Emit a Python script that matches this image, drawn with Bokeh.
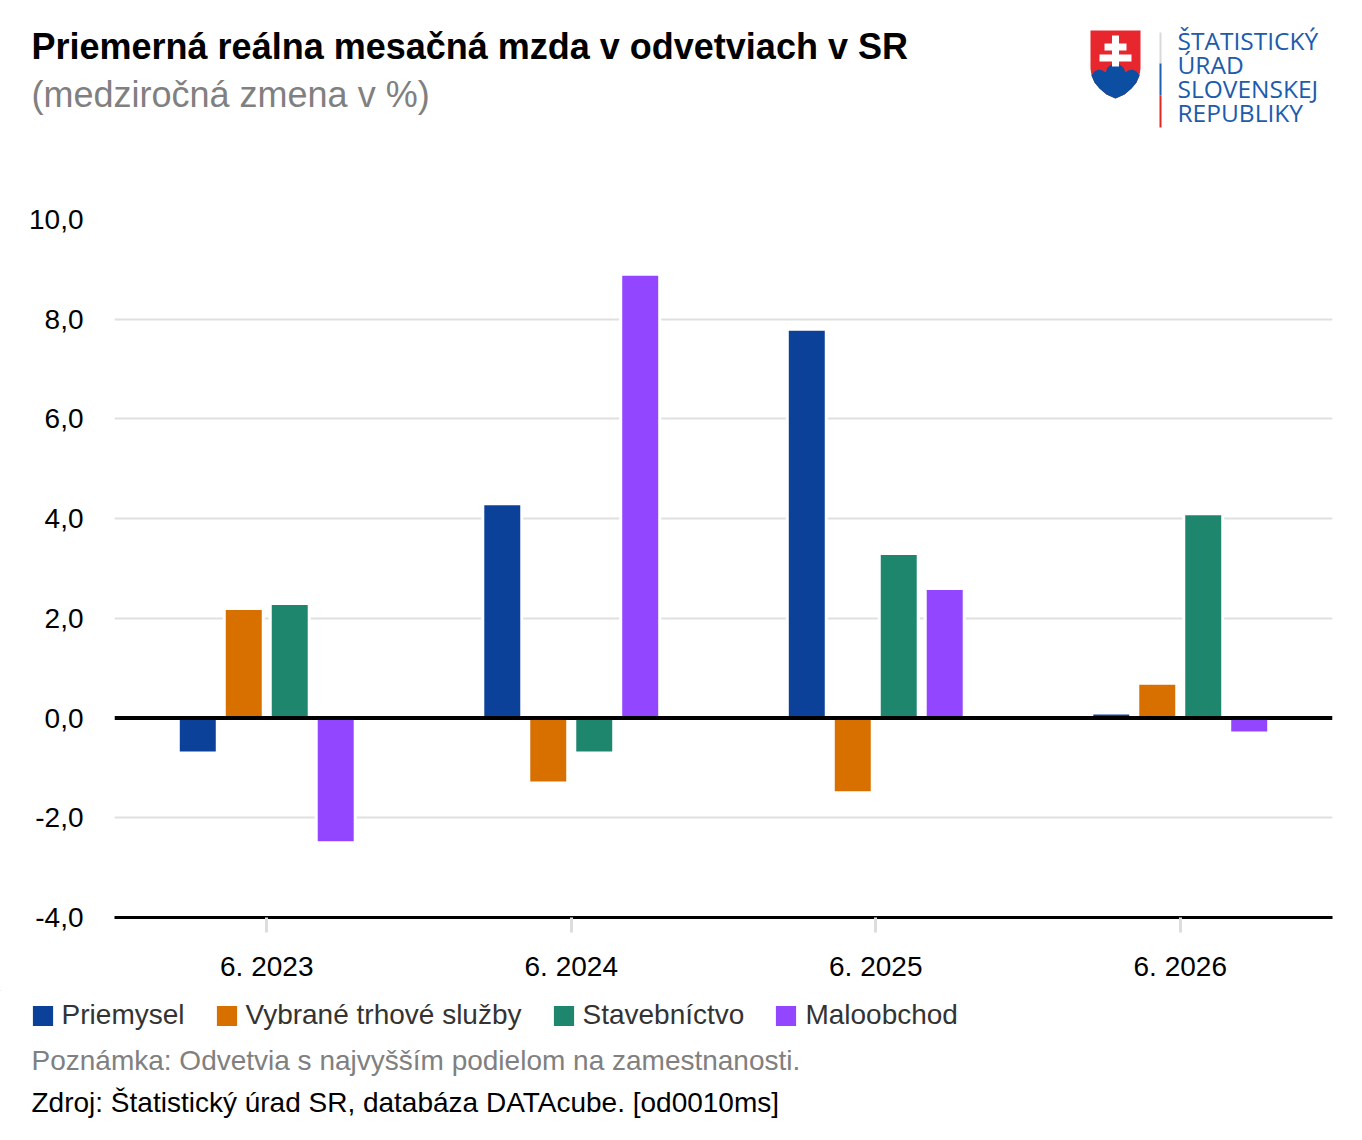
from bokeh.plotting import figure
from bokeh.models import (ColumnDataSource, FactorRange, Range1d, FixedTicker, Span,
                          Legend, LegendItem, CustomJSTickFormatter)
from bokeh.layouts import column, row
from bokeh.transform import dodge
from bokeh.core.properties import value
from bokeh.embed import file_html
from bokeh.resources import INLINE

# ---------------- data ----------------
periods = ["6. 2023", "6. 2024", "6. 2025", "6. 2026"]
series_names = ["Priemysel", "Vybrané trhové služby", "Stavebníctvo", "Maloobchod"]
priemysel = [-0.7, 4.3, 7.8, 0.1]
trhove_sluzby = [2.2, -1.3, -1.5, 0.7]
stavebnictvo = [2.3, -0.7, 3.3, 4.1]
maloobchod = [-2.5, 8.9, 2.6, -0.3]
y_ticks = [-4, -2, 0, 2, 4, 6, 8, 10]

title_text = "Priemerná reálna mesačná mzda v odvetviach v SR"
subtitle_text = "(medziročná zmena v %)"
note_text = "Poznámka: Odvetvia s najvyšším podielom na zamestnanosti."
source_text = "Zdroj: Štatistický úrad SR, databáza DATAcube. [od0010ms]"
logo_lines = ["ŠTATISTICKÝ", "ÚRAD", "SLOVENSKEJ", "REPUBLIKY"]

colors = ["#0C4199", "#D87000", "#1F866E", "#9346FF"]
FONT = "Liberation Sans"
W = 1362

# ---------------- header ----------------
HH = 198
hdr = figure(width=W, height=HH, x_range=Range1d(0, W), y_range=Range1d(HH, 0),
             x_axis_type=None, y_axis_type=None, toolbar_location=None,
             output_backend="svg", min_border=0, outline_line_color=None)
hdr.grid.visible = False
hdr.text(x=[31], y=[46], text=[title_text], text_font=value(FONT), text_font_size="36px",
         text_font_style="bold", text_color="#000000", text_baseline="middle", text_align="left")
hdr.text(x=[31], y=[94], text=[subtitle_text], text_font=value(FONT), text_font_size="36px",
         text_color="#808080", text_baseline="middle", text_align="left")

# logo
shield = [(1090, 30), (1140, 30), (1140, 68), (1139, 75), (1136, 82), (1131, 88), (1124, 94),
          (1115, 98), (1106, 94), (1099, 88), (1094, 82), (1091, 75), (1090, 68)]
hills = [(1091, 75), (1094, 71), (1098, 69), (1102, 70), (1105, 72), (1107, 67), (1111, 64),
         (1115, 63), (1119, 64), (1123, 67), (1125, 72), (1128, 70), (1132, 69), (1136, 71),
         (1139, 75), (1136, 82), (1131, 88), (1124, 94), (1115, 98), (1106, 94), (1099, 88),
         (1094, 82)]
hdr.patch([q[0] for q in shield], [q[1] for q in shield], fill_color="#E8262E", line_color=None)
hdr.patch([q[0] for q in hills], [q[1] for q in hills], fill_color="#0B4EA2", line_color=None)
for (x0, x1, y0, y1) in [(1111.5, 1118.5, 35, 66), (1104, 1126, 43, 50), (1099, 1131, 54, 61)]:
    hdr.quad(left=x0, right=x1, top=y0, bottom=y1, fill_color="#FFFFFF", line_color=None)
for (y0, y1, c) in [(32, 63, "#D9D9D9"), (63, 95, "#1D5FB0"), (95, 127, "#E52521")]:
    hdr.quad(left=1159, right=1161, top=y0, bottom=y1, fill_color=c, line_color=None)
hdr.text(x=[1177] * 4, y=[40, 64, 88, 112], text=logo_lines,
         text_font=value("Open Sans"), text_font_size="24.5px", text_color="#1B5CAD",
         text_baseline="middle", text_align="left")

# ---------------- main chart ----------------
MH = 792
src = ColumnDataSource(dict(period=periods, s0=priemysel, s1=trhove_sluzby,
                            s2=stavebnictvo, s3=maloobchod))
p = figure(width=W, height=MH, x_range=FactorRange(*periods), y_range=Range1d(-4, 10),
           toolbar_location=None, output_backend="svg",
           min_border_left=114, min_border_right=30, min_border_top=21, min_border_bottom=73,
           outline_line_color=None)
p.x_range.range_padding = 0

offsets = [-0.2265, -0.0755, 0.0755, 0.2265]
for i, col in enumerate(["s0", "s1", "s2", "s3"]):
    p.vbar(x=dodge("period", offsets[i], range=p.x_range), top=col, bottom=0, width=0.128,
           source=src, fill_color=colors[i], line_color="white", line_width=3)

p.add_layout(Span(location=0, dimension="width", line_color="black", line_width=4, level="overlay"))

p.xgrid.visible = False
p.ygrid.grid_line_color = "#E0E0E0"
p.ygrid.grid_line_width = 2

p.yaxis.ticker = FixedTicker(ticks=y_ticks)
p.yaxis.formatter = CustomJSTickFormatter(code="return tick.toFixed(1).replace('.', ',');")
p.yaxis.axis_line_color = None
p.yaxis.major_tick_line_color = None
p.yaxis.minor_tick_line_color = None
p.yaxis.major_tick_out = 0
p.yaxis.major_tick_in = 0
p.yaxis.major_label_standoff = 31
p.yaxis.major_label_text_font = FONT
p.yaxis.major_label_text_font_size = "28px"
p.yaxis.major_label_text_color = "#000000"

p.xaxis.axis_line_color = "black"
p.xaxis.axis_line_width = 3
p.xaxis.major_tick_line_color = "#DDDDDD"
p.xaxis.major_tick_line_width = 3
p.xaxis.major_tick_out = 15
p.xaxis.major_tick_in = 0
p.xaxis.major_label_standoff = 18
p.xaxis.major_label_text_font = FONT
p.xaxis.major_label_text_font_size = "28px"
p.xaxis.major_label_text_color = "#000000"

# ---------------- footer (legend + notes) ----------------
FH = 150
ftr = figure(width=W, height=FH, x_range=Range1d(0, W), y_range=Range1d(FH, 0),
             x_axis_type=None, y_axis_type=None, toolbar_location=None,
             output_backend="svg", min_border=0, outline_line_color=None)
ftr.grid.visible = False
# legend proxies (kept outside the visible range; only their legend swatches show)
proxies = []
for i in range(4):
    proxies.append(ftr.vbar(x=[-1000], top=[-1000], bottom=[-1001], width=1, fill_color=colors[i],
                            line_color="white", line_width=3))
legend = Legend(items=[LegendItem(label=n, renderers=[r]) for n, r in zip(series_names, proxies)],
                orientation="horizontal", location=(27.6, 109), padding=0, margin=0,
                spacing=27, label_standoff=5, glyph_width=29, glyph_height=29,
                border_line_color=None, background_fill_alpha=0,
                label_text_font=FONT, label_text_font_size="28px", label_text_color="#333333")
ftr.add_layout(legend, "center")
ftr.text(x=[31], y=[70], text=[note_text], text_font=value(FONT), text_font_size="28px",
         text_color="#808080", text_baseline="middle", text_align="left")
ftr.text(x=[31], y=[112], text=[source_text], text_font=value(FONT), text_font_size="28px",
         text_color="#000000", text_baseline="middle", text_align="left")

layout = column(row(hdr), row(p), row(ftr), spacing=0)
open("out.html", "w").write(file_html(layout, INLINE))
